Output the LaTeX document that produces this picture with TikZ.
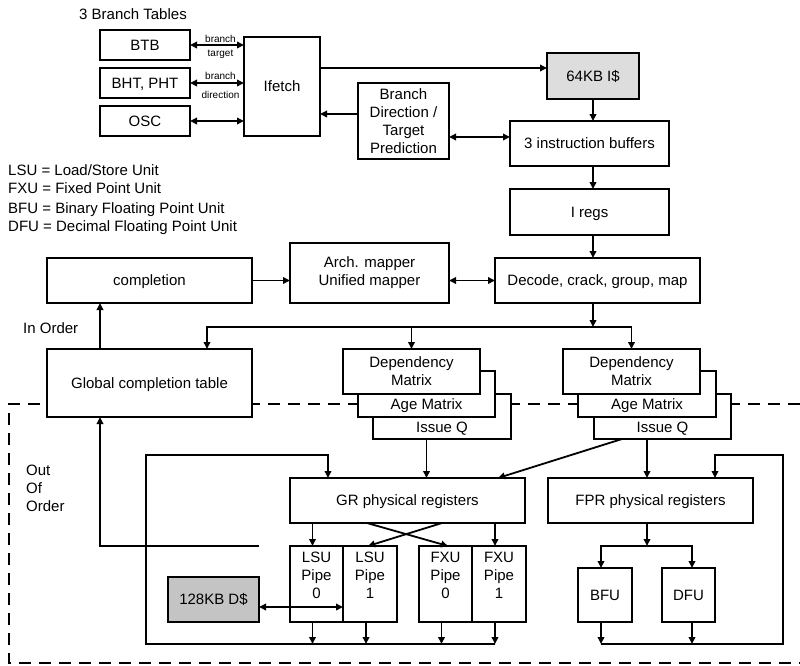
\documentclass[tikz,border=0pt]{standalone}
\usepackage{fontspec}
\setmainfont{Liberation Sans}
\usetikzlibrary{arrows.meta,calc}
\definecolor{icachefill}{HTML}{DDDDDD}
\definecolor{dcachefill}{HTML}{C4C4C4}
\tikzset{
  box/.style={draw, line width=2.1pt, fill=white, inner sep=0pt, outer sep=0pt, align=center, font=\fontsize{15}{18}\selectfont},
  sbox/.style={box, text height=10.9pt, text depth=0pt},
  ln/.style={line width=1.8pt},
  arr/.style={ln, -{Triangle[length=7pt,width=6.5pt]}},
  darr/.style={ln, {Triangle[length=7pt,width=6.5pt]}-{Triangle[length=7pt,width=6.5pt]}},
  lbl/.style={font=\fontsize{10}{12}\selectfont, inner sep=0pt, anchor=base},
  txt/.style={font=\fontsize{15}{18}\selectfont, inner sep=0pt, anchor=base west},
  ctxt/.style={font=\fontsize{15}{18}\selectfont, inner sep=0pt, text height=10.9pt, text depth=0pt},
  ptxt/.style={font=\fontsize{15}{18}\selectfont, inner sep=0pt, align=center},
  ooo/.style={line width=2.8pt, dash pattern=on 12pt off 8pt},
}
\begin{document}
\begin{tikzpicture}[x=1pt,y=-1pt]
\useasboundingbox (0,0) rectangle (800,665);
% out-of-order region
\draw[ooo] (800,404) -- (9,404) -- (9,663) -- (800,663);

% texts
\node[txt] (title) at (79,19.4) {3 Branch Tables};
\node[txt] (leg1) at (8,175.4) {LSU = Load/Store Unit};
\node[txt] (leg2) at (8,193.7) {FXU = Fixed Point Unit};
\node[txt] (leg3) at (8,213.1) {BFU = Binary Floating Point Unit};
\node[txt] (leg4) at (8,231.1) {DFU = Decimal Floating Point Unit};
\node[txt] (inord) at (23,333.4) {In Order};
\node[txt] (ooo1) at (26,475.4) {Out};
\node[txt] (ooo2) at (26,493.1) {Of};
\node[txt] (ooo3) at (26,511.4) {Order};

% front end
\node[sbox, minimum width=90pt, minimum height=30pt] (btb) at (145,45) {BTB};
\node[sbox, minimum width=90pt, minimum height=30pt] (bht) at (145,83) {BHT, PHT};
\node[sbox, minimum width=90pt, minimum height=30pt] (osc) at (145,121) {OSC};
\node[sbox, minimum width=76pt, minimum height=99pt] (ifetch) at (282,86.5) {Ifetch};
\node[sbox, fill=icachefill, minimum width=92pt, minimum height=46pt] (icache) at (593,76) {64KB I\$};
\node[box, minimum width=91pt, minimum height=76pt] (bdir) at (403.5,121) {Branch\\Direction /\\Target\\Prediction};
\node[sbox, minimum width=159pt, minimum height=45pt] (ibuf) at (589.5,143.5) {3 instruction buffers};
\node[sbox, minimum width=159pt, minimum height=46pt] (iregs) at (589.5,212) {I regs};
\node[sbox, minimum width=205pt, minimum height=45pt] (decode) at (597.5,280.5) {Decode, crack, group, map};
\node[box, minimum width=159pt, minimum height=60pt] (arch) at (369.5,273) {Arch. mapper\\Unified mapper};
\node[sbox, minimum width=205pt, minimum height=45pt] (compl) at (149.5,280.5) {completion};
\node[sbox, minimum width=205pt, minimum height=68pt] (gct) at (149.5,383) {Global completion table};

% issue stacks
\node[box, minimum width=138pt, minimum height=45pt] (liss) at (442,416.5) {};
\node[box, minimum width=137pt, minimum height=46pt] (lage) at (426.5,394) {};
\node[box, minimum width=137pt, minimum height=45pt] (ldep) at (411.5,371.5) {Dependency\\Matrix};
\node[ctxt] (lisst) at (442,427) {Issue Q};
\node[ctxt] (laget) at (426.5,404.5) {Age Matrix};
\node[box, minimum width=137pt, minimum height=45pt] (riss) at (662.5,416.5) {};
\node[box, minimum width=138pt, minimum height=46pt] (rage) at (647,394) {};
\node[box, minimum width=137pt, minimum height=45pt] (rdep) at (631.5,371.5) {Dependency\\Matrix};
\node[ctxt] (risst) at (662.5,427) {Issue Q};
\node[ctxt] (raget) at (647,404.5) {Age Matrix};

% registers and pipes
\node[sbox, minimum width=235pt, minimum height=45pt] (gr) at (407.5,500.5) {GR physical registers};
\node[sbox, minimum width=205pt, minimum height=45pt] (fpr) at (650.5,500.5) {FPR physical registers};
\node[box, minimum width=53pt, minimum height=76pt] (l0) at (316.5,584) {};
\node[box, minimum width=54pt, minimum height=76pt] (l1) at (370,584) {};
\node[box, minimum width=53pt, minimum height=76pt] (f0) at (445.5,584) {};
\node[box, minimum width=54pt, minimum height=76pt] (f1) at (499,584) {};
\node[ptxt] (l0t) at (316.5,575) {LSU\\Pipe\\0};
\node[ptxt] (l1t) at (370,575) {LSU\\Pipe\\1};
\node[ptxt] (f0t) at (445.5,575) {FXU\\Pipe\\0};
\node[ptxt] (f1t) at (499,575) {FXU\\Pipe\\1};
\node[sbox, minimum width=54pt, minimum height=54pt] (bfu) at (605,595) {BFU};
\node[sbox, minimum width=53pt, minimum height=54pt] (dfu) at (688.5,595) {DFU};
\node[sbox, fill=dcachefill, minimum width=91pt, minimum height=45pt] (dcache) at (213.5,599.5) {128KB D\$};

% branch table links
\draw[darr] (btb.east) -- (btb.east -| ifetch.west);
\draw[darr] (bht.east) -- (bht.east -| ifetch.west);
\draw[darr] (osc.east) -- (osc.east -| ifetch.west);
\node[lbl] (lb1) at (220.5,42.6) {branch};
\node[lbl] (lb2) at (220.5,56) {target};
\node[lbl] (lb3) at (220.5,79.6) {branch};
\node[lbl] (lb4) at (220.5,98) {direction};

% front end flow
\draw[arr] ([yshift=8pt]ifetch.east |- icache.west) -- ([yshift=8pt]icache.west);
\draw[arr] ([yshift=7pt]bdir.west) -- ([yshift=7pt]bdir.west -| ifetch.east);
\draw[darr] ([yshift=-16pt]bdir.east) -- ([yshift=-16pt]bdir.east -| ibuf.west);
\draw[arr] (icache.south) -- (icache.south |- ibuf.north);
\draw[arr] (icache.south |- ibuf.south) -- (icache.south |- iregs.north);
\draw[arr] (icache.south |- iregs.south) -- (icache.south |- decode.north);
\coordinate (dj) at (593,327);
\draw[arr] (icache.south |- decode.south) -- (dj);
\draw[arr] (dj) -| (rdep.north);
\draw[arr] (dj) -| ([xshift=57.5pt]gct.north);
\draw[arr] (ldep.north |- dj) -- (ldep.north);
\draw[arr] (compl.east) -- (compl.east -| arch.west);
\draw[darr] (decode.west -| arch.east) -- (decode.west);
\draw[arr] ([xshift=-49.5pt]gct.north) -- ([xshift=-49.5pt]compl.south);
\draw[arr] (dcache.east |- l0.north) -| ([xshift=-49.5pt]gct.south);

% issue to registers
\draw[arr] (lage.south |- liss.south) -- (lage.south |- gr.north);
\draw[arr] ([xshift=28pt]riss.south west) -- ([xshift=-27pt]gr.north east);
\draw[arr] (rage.south |- riss.south) -- (rage.south |- fpr.north);

% GR to pipes
\draw[arr] ([xshift=-4pt]l0.north |- gr.south) -- ([xshift=-4pt]l0.north);
\draw[arr] ([xshift=-4pt]f1.north |- gr.south) -- ([xshift=-4pt]f1.north);
\draw[arr] ([xshift=-40.5pt]gr.south) -- ([xshift=2.5pt]f0.north);
\draw[arr] ([xshift=34.5pt]gr.south) -- ([xshift=-2pt]l1.north);

% left loop
\coordinate (lbl) at (146,644);
\coordinate (ltl) at (146,455);
\draw[arr] ([xshift=-4pt]f1.south |- lbl) -- (lbl) -- (ltl) -| ([xshift=38pt]gr.north west);
\foreach \p in {l0,l1,f0,f1}
  \draw[arr] ([xshift=-4pt]\p.south) -- ([xshift=-4pt]\p.south |- lbl);
\draw[darr] ([yshift=-7.5pt]dcache.east) -- ([yshift=-7.5pt]dcache.east -| l1.west);

% FPR side
\coordinate (fj) at (647,546);
\draw[arr] (rage.south |- fpr.south) -- (fj);
\draw[arr] (fj) -| ([xshift=-4pt]bfu.north);
\draw[arr] (fj) -| ([xshift=3.5pt]dfu.north);
\coordinate (rbr) at (783,644);
\coordinate (rtr) at (783,455);
\draw[arr] ([xshift=-4pt]bfu.south |- rbr) -- (rbr) -- (rtr) -| ([xshift=-38pt]fpr.north east);
\draw[arr] ([xshift=-4pt]bfu.south) -- ([xshift=-4pt]bfu.south |- rbr);
\draw[arr] ([xshift=3.5pt]dfu.south) -- ([xshift=3.5pt]dfu.south |- rbr);
\end{tikzpicture}
\end{document}
